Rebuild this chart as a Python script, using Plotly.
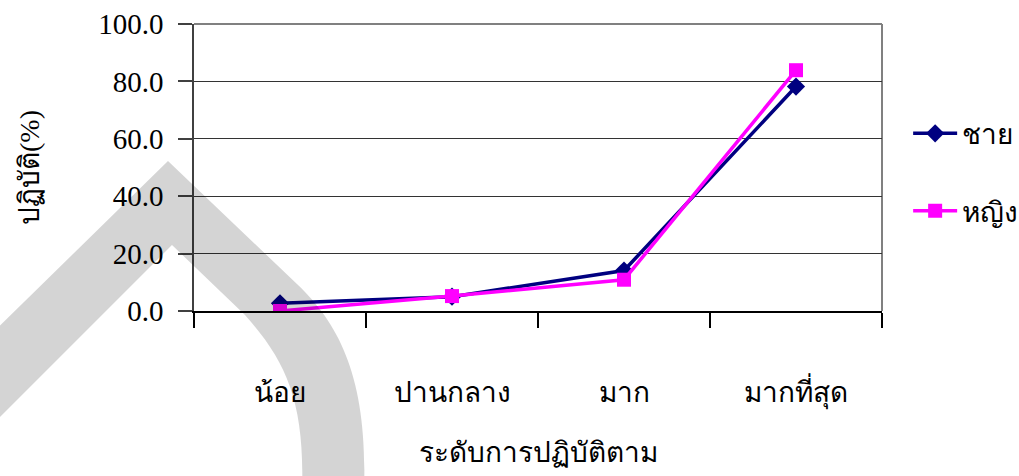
import plotly.graph_objects as go

# Practice level categories (x axis) and percentages by gender
levels = ["น้อย", "ปานกลาง", "มาก", "มากที่สุด"]
male_pct = [2.7, 5.0, 14.1, 78.2]
female_pct = [0.0, 5.2, 10.9, 83.9]
y_ticks = [0, 20, 40, 60, 80, 100]

W, H = 1019, 476
L, R, T, B = 194, 137, 24, 165
PW, PH = W - L - R, H - T - B

FONT = "'Liberation Serif', 'DejaVu Serif', serif"


def px(x, y):
    """Pixel position on the page -> paper coordinates."""
    return (x - L) / PW, (H - B - y) / PH


def path(cmds):
    out = []
    for c in cmds:
        op, pts = c[0], c[1:]
        coords = " ".join("%.4f,%.4f" % px(*p) for p in pts)
        out.append(op + " " + coords if pts else op)
    return " ".join(out)


fig = go.Figure()

fig.add_trace(go.Scatter(
    x=levels, y=male_pct, name="ชาย", mode="lines+markers",
    line=dict(color="#000080", width=3.5),
    marker=dict(symbol="diamond", size=14, color="#000080"),
    legendgroup="m",
))
fig.add_trace(go.Scatter(
    x=levels, y=female_pct, name="หญิง", mode="lines+markers",
    line=dict(color="#ff00ff", width=3.5),
    marker=dict(symbol="square", size=14, color="#ff00ff"),
    legendgroup="f",
))

# faint grey arch in the background of the page
arch = path([
    ("M", (-20, 345)), ("L", (168, 161)), ("L", (298, 285)),
    ("C", (340, 325), (368, 380), (364, 490)),
    ("L", (302, 490)),
    ("C", (305, 400), (285, 360), (245, 315)),
    ("L", (172, 245)), ("L", (-20, 437)), ("Z",),
])
fig.add_shape(type="path", path=arch, xref="paper", yref="paper",
              fillcolor="black", opacity=0.17, line=dict(width=0),
              layer="above")

# plot-area frame (top and right edges)
fig.add_shape(type="line", xref="paper", yref="paper", x0=0, x1=1, y0=1, y1=1,
              line=dict(color="#808080", width=2), layer="below")
fig.add_shape(type="line", xref="paper", yref="paper", x0=1, x1=1, y0=0, y1=1,
              line=dict(color="#808080", width=2), layer="below")

fig.update_layout(
    width=W, height=H,
    margin=dict(l=L, r=R, t=T, b=B, pad=0, autoexpand=False),
    paper_bgcolor="white", plot_bgcolor="white",
    font=dict(family=FONT, color="black", size=28),
    showlegend=True,
    legend=dict(
        x=1.038, y=0.705, xanchor="left", yanchor="top",
        font=dict(size=28, family=FONT), tracegroupgap=38,
        traceorder="grouped", bgcolor="rgba(0,0,0,0)",
        itemwidth=44,
    ),
    xaxis=dict(
        type="category", range=[-0.5, 3.5], automargin=False,
        showline=True, linecolor="black", linewidth=1.5,
        ticks="outside", tickson="boundaries", ticklen=15,
        tickcolor="black", tickwidth=1.5,
        showgrid=False, zeroline=False,
        tickfont=dict(size=28), ticklabelstandoff=56,
        title=dict(text="ระดับการปฏิบัติตาม", font=dict(size=28), standoff=33),
    ),
    yaxis=dict(
        range=[0, 100], tickvals=y_ticks, tickformat=".1f", automargin=False,
        showline=True, linecolor="#404040", linewidth=1.5,
        ticks="outside", ticklen=14, tickcolor="#404040", tickwidth=1.5,
        showgrid=True, gridcolor="#333333", gridwidth=1,
        zeroline=False, tickfont=dict(size=29), ticklabelstandoff=9,
        title=dict(text="ปฏิบัติ(%)", font=dict(size=28), standoff=50),
    ),
)

fig.write_html("out.html")
